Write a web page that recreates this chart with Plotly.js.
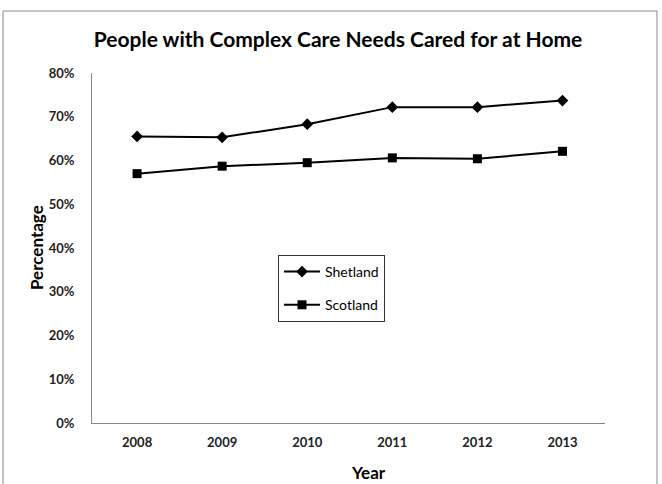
<!DOCTYPE html>
<html>
<head>
<meta charset="utf-8">
<script src="https://cdn.plot.ly/plotly-3.0.1.min.js"></script>
<style>html,body{margin:0;padding:0;background:#fff;}#chart{width:662px;height:484px;}</style>
</head>
<body>
<div id="chart"></div>
<script>
var years = ['2008', '2009', '2010', '2011', '2012', '2013'];
var shetland = [65.5, 65.3, 68.3, 72.2, 72.2, 73.7];
var scotland = [57.0, 58.7, 59.5, 60.6, 60.4, 62.1];
var yTicks = [0, 10, 20, 30, 40, 50, 60, 70, 80];

var FONT = 'Lato, "Open Sans", sans-serif';

var traces = [
  {
    x: years, y: shetland, name: 'Shetland', type: 'scatter', mode: 'lines+markers',
    legendgroup: 'a',
    line: {color: '#000', width: 2},
    marker: {symbol: 'diamond', size: 9, color: '#000'}
  },
  {
    x: years, y: scotland, name: 'Scotland', type: 'scatter', mode: 'lines+markers',
    legendgroup: 'b',
    line: {color: '#000', width: 2},
    marker: {symbol: 'square', size: 9, color: '#000'}
  }
];

var L = 92, R = 605, T = 73, B = 423;
var W = R - L, H = B - T;
function px(x){ return (x - L) / W; }
function py(y){ return (B - y) / H; }

var layout = {
  width: 662, height: 484,
  margin: {l: L, r: 662 - R, t: T, b: 484 - B},
  paper_bgcolor: '#fff', plot_bgcolor: '#fff',
  font: {family: FONT, color: '#000', size: 13},
  title: {
    text: '<b>People with Complex Care Needs Cared for at Home</b>',
    font: {family: FONT, size: 21, color: '#000'},
    x: 338 / 662, xanchor: 'center', y: 1 - 40 / 484, yanchor: 'middle'
  },
  showlegend: true,
  legend: {
    x: px(278), y: py(255), xanchor: 'left', yanchor: 'top',
    bordercolor: '#333', borderwidth: 1, bgcolor: '#fff',
    tracegroupgap: 12,
    font: {family: FONT, size: 14, color: '#000'},
    itemwidth: 36
  },
  xaxis: {
    type: 'category',
    range: [-0.53, 5.5],
    showline: true, linecolor: '#888', linewidth: 1,
    showgrid: false, zeroline: false, ticks: '',
    tickfont: {family: FONT, size: 13, color: '#222', weight: 'bold'},
    ticklabelstandoff: 7
  },
  yaxis: {
    range: [0, 80],
    tickvals: yTicks,
    ticktext: yTicks.map(function(v){ return '<b>' + v + '%</b>'; }),
    showline: true, linecolor: '#888', linewidth: 1,
    showgrid: false, zeroline: false, ticks: '',
    tickfont: {family: FONT, size: 13, color: '#222'},
    ticklabelstandoff: 14
  },
  annotations: [
    {
      text: '<b>Year</b>', xref: 'paper', yref: 'paper',
      x: px(368), y: py(472), xanchor: 'center', yanchor: 'middle',
      showarrow: false, font: {family: FONT, size: 17, color: '#000'}
    },
    {
      text: '<b>Percentage</b>', xref: 'paper', yref: 'paper',
      x: px(36), y: py(248), xanchor: 'center', yanchor: 'middle', textangle: -90,
      showarrow: false, font: {family: FONT, size: 17, color: '#000'}
    }
  ],
  shapes: [{
    type: 'rect', xref: 'paper', yref: 'paper',
    x0: px(3), x1: px(657), y0: py(495), y1: py(11),
    line: {color: '#888', width: 1}, fillcolor: 'rgba(0,0,0,0)', layer: 'below'
  }]
};

Plotly.newPlot('chart', traces, layout, {displayModeBar: false, staticPlot: true});
</script>
</body>
</html>
